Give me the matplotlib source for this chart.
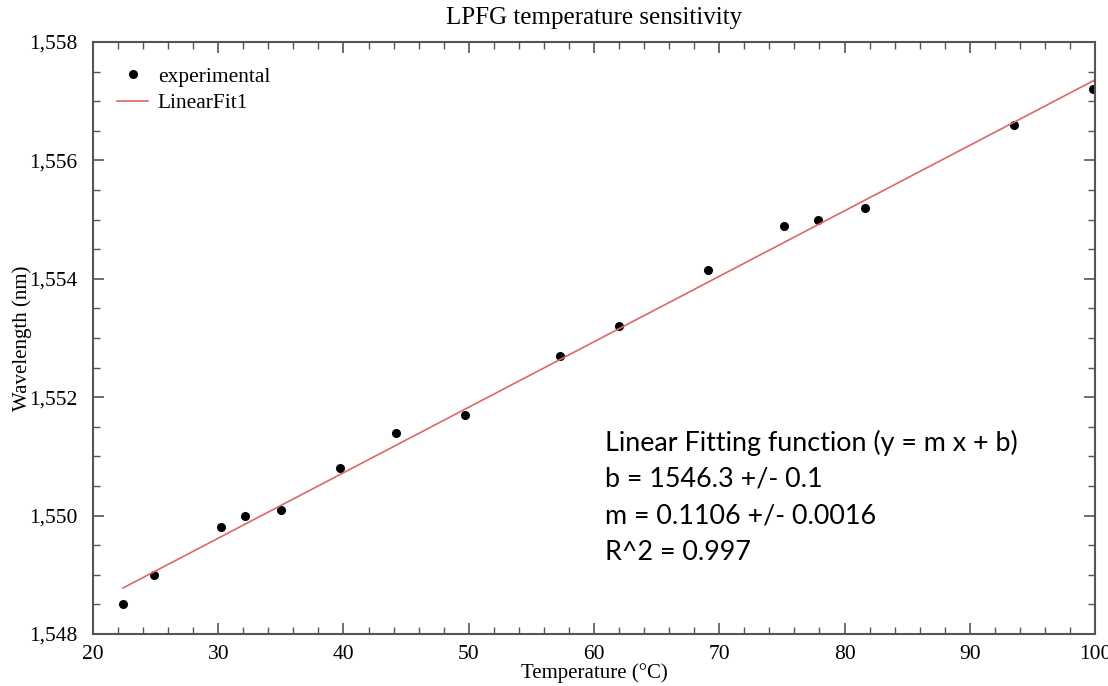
import numpy as np
import matplotlib.pyplot as plt
from matplotlib.ticker import MultipleLocator, FuncFormatter

# --- Data ---
temperature = [22.4, 24.9, 30.2, 32.1, 35.0, 39.7, 44.2, 49.7, 57.3,
               62.0, 69.1, 75.2, 77.9, 81.6, 93.5, 99.8]
wavelength = [1548.5, 1549.0, 1549.8, 1550.0, 1550.1, 1550.8, 1551.4, 1551.7,
              1552.7, 1553.2, 1554.15, 1554.9, 1555.0, 1555.2, 1556.6, 1557.2]

# fit parameters shown on the chart
fit_b = 1546.3
fit_m = 0.1106
fit_x_range = [22.4, 100.0]

fit_text = ["Linear Fitting function (y = m x + b)",
            "b = 1546.3 +/- 0.1",
            "m = 0.1106 +/- 0.0016",
            "R^2 = 0.997"]

serif = "Liberation Serif"

fig = plt.figure(figsize=(11.08, 6.86), dpi=100)
ax = fig.add_axes([0.0839, 0.0758, 0.9044, 0.863])

ax.plot(temperature, wavelength, "o", color="black", markersize=5.5,
        label="experimental")
fx = np.array(fit_x_range)
ax.plot(fx, fit_b + fit_m * fx, color="#e06666", linewidth=1.2,
        label="LinearFit1")

ax.set_xlim(20, 100)
ax.set_ylim(1548, 1558)
ax.xaxis.set_major_locator(MultipleLocator(10))
ax.xaxis.set_minor_locator(MultipleLocator(2))
ax.yaxis.set_major_locator(MultipleLocator(2))
ax.yaxis.set_minor_locator(MultipleLocator(0.5))
ax.yaxis.set_major_formatter(FuncFormatter(lambda v, p: f"{v:,.0f}"))

ax.tick_params(which="both", direction="in", top=True, right=True,
               color="#555555", labelsize=15.5)
ax.tick_params(axis="x", pad=8)
ax.tick_params(axis="y", pad=11)
ax.tick_params(which="major", length=8, width=1.2)
ax.tick_params(which="minor", length=5, width=1.0)
for lab in ax.get_xticklabels() + ax.get_yticklabels():
    lab.set_fontfamily(serif)
for s in ax.spines.values():
    s.set_color("#555555")
    s.set_linewidth(1.5)

ax.set_title("LPFG temperature sensitivity", fontfamily=serif, fontsize=18,
             pad=13)
ax.set_xlabel("Temperature (°C)", fontfamily=serif, fontsize=15, va="center")
ax.set_ylabel("Wavelength (nm)", fontfamily=serif, fontsize=15, va="center")
ax.xaxis.set_label_coords(0.5, -0.066)
ax.yaxis.set_label_coords(-0.071, 0.5)

ax.legend(loc="upper left", frameon=False, prop={"family": serif, "size": 15.4},
          bbox_to_anchor=(0.024, 0.958), borderaxespad=0, borderpad=0,
          handlelength=1.45, handletextpad=0.45, labelspacing=0.3)

for i, line in enumerate(fit_text):
    ax.text(0.511, 0.323 - i * 0.0617, line, transform=ax.transAxes,
            fontfamily="Lato", fontsize=19.4, va="center", ha="left")

fig.savefig("out.png", dpi=100)
